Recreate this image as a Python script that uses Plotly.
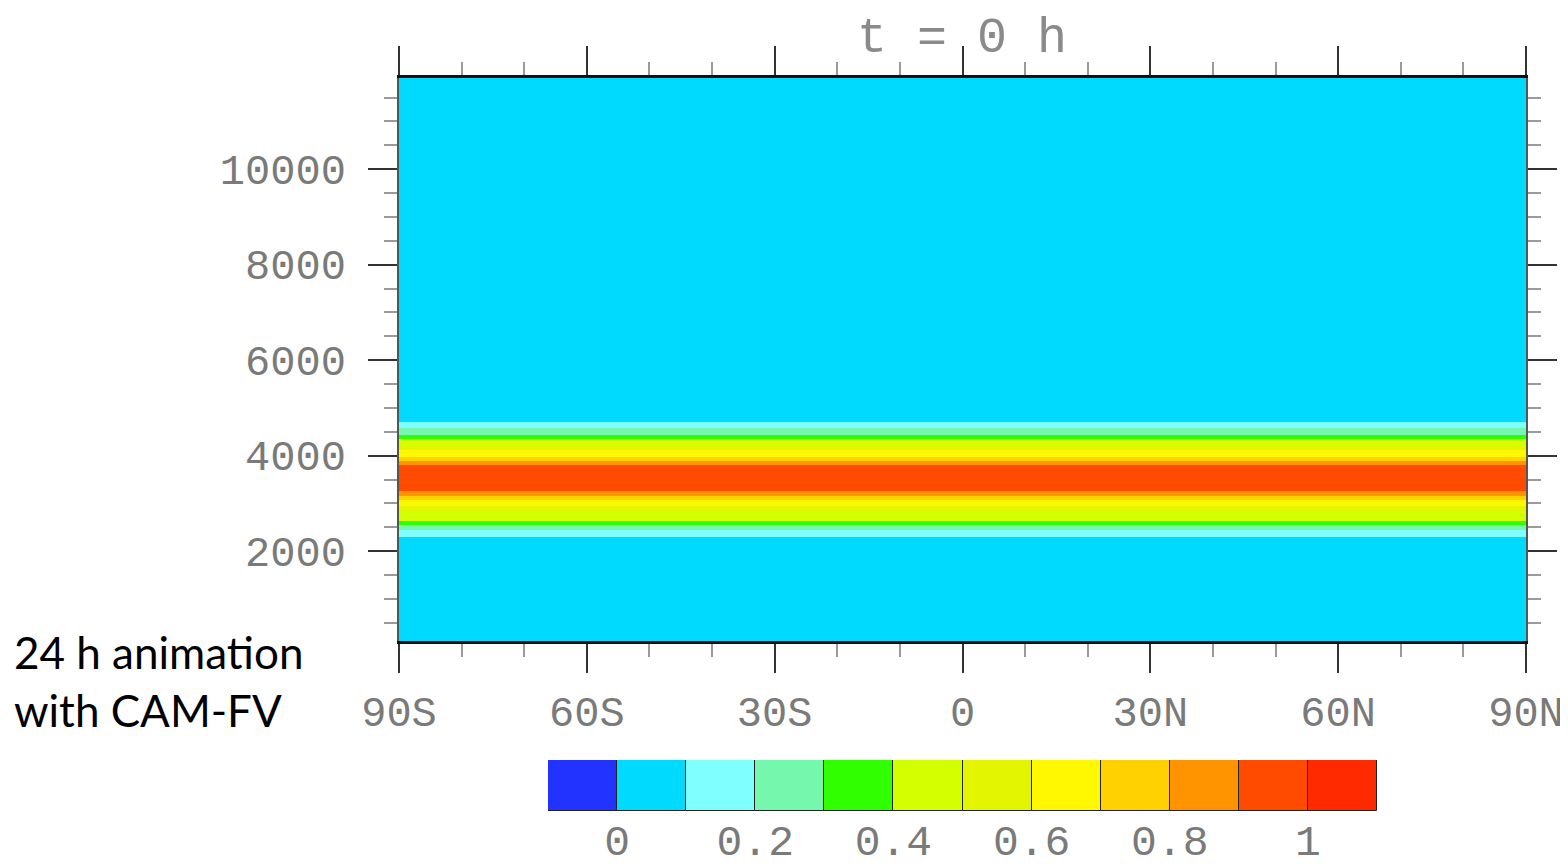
import plotly.graph_objects as go

# ---- data ----
lat_edges = [-90, 90]
height_edges = [120, 2307, 2453, 2558, 2641, 2850, 2955, 3080, 3164, 3262,
                 3812, 3895, 3979, 4125, 4230, 4355, 4439, 4585, 4704, 11910]
tracer_values = [0.05, 0.15, 0.25, 0.35, 0.45, 0.55, 0.65, 0.75, 0.85, 0.95,
                 0.85, 0.75, 0.65, 0.55, 0.45, 0.35, 0.25, 0.15, 0.05]

contour_levels = [-0.1, 0.0, 0.1, 0.2, 0.3, 0.4, 0.5, 0.6, 0.7, 0.8, 0.9, 1.0, 1.1]
level_colors = ["#2233FF", "#00DAFF", "#7FFFFF", "#76F7AE", "#30FF00", "#D3FF00",
                "#E4F500", "#FFF800", "#FFD100", "#FF9300", "#FF4B00", "#FF2A00"]

x_tickvals = [-90, -60, -30, 0, 30, 60, 90]
x_ticktext = ["90S", "60S", "30S", "0", "30N", "60N", "90N"]
y_tickvals = [2000, 4000, 6000, 8000, 10000]
y_ticktext = ["2000", "4000", "6000", "8000", "10000"]
cb_tickvals = [0, 0.2, 0.4, 0.6, 0.8, 1.0]
cb_ticktext = ["0", "0.2", "0.4", "0.6", "0.8", "1"]

title_text = "t = 0 h"
side_text = ["24 h animation", "with CAM-FV"]

# ---- build figure ----
OFF = 8  # default page body margin
W, H = 1568 - OFF, 867 - OFF
n = len(level_colors)
zmin, zmax = contour_levels[0], contour_levels[-1]
colorscale = []
for i, c in enumerate(level_colors):
    colorscale.append([i / n, c])
    colorscale.append([(i + 1) / n, c])

fig = go.Figure()
fig.add_trace(go.Heatmap(
    x=lat_edges, y=height_edges, z=[[v] for v in tracer_values],
    zmin=zmin, zmax=zmax, colorscale=colorscale, showscale=False,
    hoverinfo="skip", xaxis="x", yaxis="y"))

cb_centers = [(contour_levels[i] + contour_levels[i + 1]) / 2 for i in range(n)]
cb_widths = [contour_levels[i + 1] - contour_levels[i] for i in range(n)]
fig.add_trace(go.Bar(
    x=cb_centers, y=[1] * n, width=cb_widths,
    marker=dict(color=level_colors, line=dict(color="#222222", width=1)),
    hoverinfo="skip", xaxis="x2", yaxis="y2", showlegend=False))

tick_font = dict(family="Liberation Mono", size=42, color="#7A7A7A")

def px_x(p):
    return (p - OFF) / W

def px_y(p):
    return 1 - (p - OFF) / H

fig.update_layout(
    width=W, height=H,
    margin=dict(l=0, r=0, t=0, b=0, autoexpand=False),
    paper_bgcolor="white", plot_bgcolor="white",
    showlegend=False,
    xaxis=dict(
        domain=[px_x(399), px_x(1526)], anchor="y", automargin=False,
        range=[lat_edges[0], lat_edges[-1]],
        tickmode="array", tickvals=x_tickvals, ticktext=x_ticktext,
        ticks="outside", ticklen=29, tickwidth=1.5, tickcolor="#333333",
        minor=dict(dtick=10, ticks="outside", ticklen=13, tickwidth=1.5, tickcolor="#9A9A9A"),
        showline=True, linecolor="#111111", linewidth=2.5, mirror="allticks",
        showgrid=False, zeroline=False, tickfont=tick_font, ticklabelstandoff=3,
    ),
    yaxis=dict(
        domain=[px_y(641), px_y(78)], anchor="x", automargin=False,
        range=[height_edges[0], height_edges[-1]],
        tickmode="array", tickvals=y_tickvals, ticktext=y_ticktext,
        ticks="outside", ticklen=29, tickwidth=1.5, tickcolor="#333333",
        minor=dict(dtick=500, tick0=0, ticks="outside", ticklen=13, tickwidth=1.5, tickcolor="#9A9A9A"),
        showline=True, linecolor="#555555", linewidth=1.5, mirror="allticks",
        showgrid=False, zeroline=False, tickfont=tick_font, ticklabelstandoff=14,
    ),
    xaxis2=dict(
        domain=[px_x(548), px_x(1377)], anchor="y2", automargin=False,
        range=[zmin, zmax],
        tickmode="array", tickvals=cb_tickvals, ticktext=cb_ticktext,
        ticks="", showline=False, showgrid=False, zeroline=False,
        tickfont=dict(family="Liberation Mono", size=43, color="#7A7A7A"),
        ticklabelstandoff=0,
    ),
    yaxis2=dict(
        domain=[px_y(811), px_y(760)], anchor="x2", automargin=False,
        range=[0, 1], visible=False,
    ),
    bargap=0,
)

fig.add_annotation(
    text=title_text, xref="paper", yref="paper",
    x=px_x(962), y=1.0, xanchor="center", yanchor="top",
    showarrow=False, font=dict(family="Liberation Mono", size=50, color="#8A8A8A"))

fig.add_annotation(
    text=side_text[0], xref="paper", yref="paper",
    x=px_x(12), y=px_y(652), xanchor="left", yanchor="middle",
    showarrow=False, font=dict(family="Lato", size=44, color="#000000"))
fig.add_annotation(
    text=side_text[1], xref="paper", yref="paper",
    x=px_x(12), y=px_y(710), xanchor="left", yanchor="middle",
    showarrow=False, font=dict(family="Lato", size=44, color="#000000"))

fig.write_html("out.html")
